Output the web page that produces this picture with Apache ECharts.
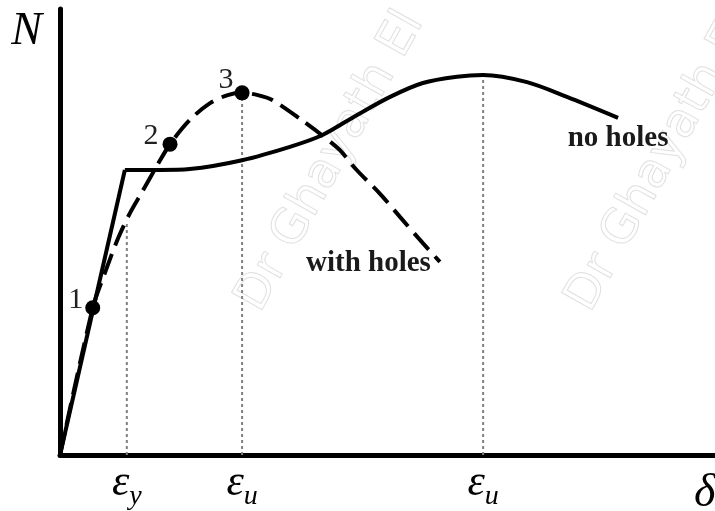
<!DOCTYPE html>
<html>
<head>
<meta charset="utf-8">
<script src="https://cdn.jsdelivr.net/npm/echarts@6/dist/echarts.min.js"></script>
<style>
  html, body { margin: 0; padding: 0; background: #fff; }
  #chart { width: 715px; height: 511px; }
</style>
</head>
<body>
<div id="chart"></div>
<script>
// Load N against deformation δ (normalised units: δ 0–10, N 0–100)

// Plate without holes: linear elastic branch, then plateau and hardening
const noHolesElastic = [[0, 0], [0.99, 63.9]];
const noHolesPlastic = [
  [0.99, 63.9], [1.53, 63.9], [1.98, 64.1], [2.78, 66.1], [3.51, 69.1],
  [4.00, 71.7], [4.53, 76.2], [5.04, 80.3], [5.54, 83.4], [6.06, 84.8],
  [6.46, 85.2], [7.13, 83.6], [7.74, 80.3], [8.52, 75.6]
];

// Plate with holes
const withHoles = [
  [0, 0], [0.50, 33.0], [0.69, 41.0], [0.89, 48.7], [1.07, 54.3],
  [1.27, 59.4], [1.47, 64.6], [1.68, 69.7], [1.98, 75.1], [2.29, 78.9],
  [2.56, 80.7], [2.78, 81.2], [3.02, 80.7], [3.24, 79.6], [3.69, 75.1],
  [4.00, 71.7], [4.27, 68.4], [4.53, 63.9], [4.89, 58.5], [5.19, 53.4],
  [5.54, 47.5], [5.80, 43.3]
];

// Numbered stages on the "with holes" curve
const stageX = [0.50, 1.68, 2.78];
const stageN = [33.0, 69.7, 81.2];
const stageNames = ['1', '2', '3'];

// Characteristic deformations marked on the δ axis
const tickValues = [1.02, 2.78, 6.46];
const tickSubs = ['y', 'u', 'u'];
// Height reached by the dotted guide above each characteristic deformation
const guideTops = [52.5, 81.2, 85.2];

const curveNames = ['no holes', 'with holes'];
const axisNames = ['δ', 'N'];

const serif = '"Liberation Serif", "DejaVu Serif", serif';
const chart = echarts.init(document.getElementById('chart'));

const stageData = stageX.map((x, i) => [x, stageN[i], stageNames[i]]);
const stageLabelOffsets = [[1, -8], [-1, -8], [2, -13]];

const guideSeries = tickValues.map((x, i) => ({
  type: 'line',
  data: [[x, 0], [x, guideTops[i]]],
  showSymbol: false,
  silent: true,
  z: 1,
  lineStyle: { color: '#808080', width: 2, type: [3, 3] }
}));

// Only the last point of a curve carries its name
function lastLabel(data, label) {
  return data.map((d, i) => i === data.length - 1
    ? { value: d, label: label }
    : { value: d, label: { show: false } });
}

const curveText = {
  show: true, fontFamily: serif, fontSize: 29, fontWeight: 'bold', color: '#1a1a1a'
};

const watermark = {
  font: '48px "DejaVu Sans"', fill: 'none', stroke: '#e0e0e0', lineWidth: 1
};

chart.setOption({
  animation: false,
  backgroundColor: '#fff',
  grid: { left: 60, right: 0, top: 9, bottom: 56, outerBoundsMode: 'none', containLabel: false },
  xAxis: {
    type: 'value', min: 0, max: 10,
    name: axisNames[0],
    nameLocation: 'end',
    nameGap: -21,
    nameTextStyle: {
      fontFamily: serif, fontStyle: 'italic', fontSize: 46, color: '#000',
      align: 'left', verticalAlign: 'top', padding: [16, 0, 0, 0]
    },
    axisLine: { show: true, onZero: false, lineStyle: { color: '#000', width: 5 } },
    axisTick: { show: false },
    splitLine: { show: false },
    axisLabel: {
      show: true,
      customValues: tickValues,
      margin: 6,
      formatter: function (v) {
        let k = 0;
        tickValues.forEach((t, i) => { if (Math.abs(t - v) < Math.abs(tickValues[k] - v)) k = i; });
        return '{e|ε}{s|' + tickSubs[k] + '}';
      },
      rich: {
        e: { fontFamily: serif, fontStyle: 'italic', fontSize: 44, color: '#000', verticalAlign: 'bottom' },
        s: { fontFamily: serif, fontStyle: 'italic', fontSize: 28, color: '#000', verticalAlign: 'bottom', padding: [0, 0, -6, 0] }
      }
    }
  },
  yAxis: {
    type: 'value', min: 0, max: 100,
    name: axisNames[1],
    nameLocation: 'end',
    nameGap: 0,
    nameTextStyle: {
      fontFamily: serif, fontStyle: 'italic', fontSize: 46, color: '#000',
      align: 'right', verticalAlign: 'top', padding: [0, 18, 0, 0]
    },
    axisLine: { show: true, onZero: false, lineStyle: { color: '#000', width: 5 } },
    axisTick: { show: false },
    splitLine: { show: false },
    axisLabel: { show: false }
  },
  graphic: [
    { type: 'text', x: 228, y: 296, rotation: 1.06, silent: true, z: -10,
      style: Object.assign({ text: 'Dr Ghayath El' }, watermark) },
    { type: 'text', x: 558, y: 296, rotation: 1.06, silent: true, z: -10,
      style: Object.assign({ text: 'Dr Ghayath El' }, watermark) }
  ],
  series: [
    {
      name: curveNames[0], type: 'line', data: noHolesElastic,
      showSymbol: false, z: 3,
      lineStyle: { color: '#000', width: 4 }
    },
    {
      name: curveNames[0], type: 'line', smooth: 0.3,
      data: lastLabel(noHolesPlastic, Object.assign({}, curveText, {
        position: 'bottom', distance: 6, formatter: curveNames[0]
      })),
      showSymbol: true, symbol: 'circle', symbolSize: 0, z: 3,
      itemStyle: { color: '#000' },
      lineStyle: { color: '#000', width: 4 }
    },
    {
      name: curveNames[1], type: 'line', smooth: 0.3,
      data: lastLabel(withHoles, Object.assign({}, curveText, {
        position: 'left', distance: 0, offset: [-9, 2], formatter: curveNames[1]
      })),
      showSymbol: true, symbol: 'circle', symbolSize: 0, z: 3,
      itemStyle: { color: '#000' },
      lineStyle: { color: '#000', width: 4, type: [22, 9] }
    },
    {
      type: 'scatter', data: stageData, z: 4,
      symbol: 'circle', symbolSize: 15,
      itemStyle: { color: '#000', opacity: 1 },
      label: {
        show: true, position: 'left', distance: 3,
        fontFamily: serif, fontSize: 30, color: '#222',
        formatter: p => p.value[2]
      },
      labelLayout: function (p) {
        const o = stageLabelOffsets[p.dataIndex];
        return { dx: o[0], dy: o[1] };
      }
    }
  ].concat(guideSeries)
});
</script>
</body>
</html>
